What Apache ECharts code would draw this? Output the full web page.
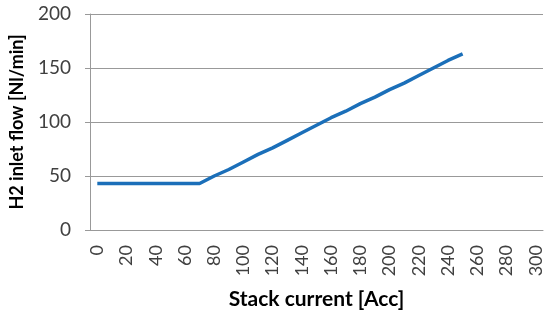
<!DOCTYPE html>
<html>
<head>
<meta charset="utf-8">
<script src="https://cdn.jsdelivr.net/npm/echarts@6/dist/echarts.min.js"></script>
<style>
    html, body { margin: 0; padding: 0; background: #fff; }
    #chart { width: 550px; height: 318px; }
</style>
</head>
<body>
<div id="chart"></div>
<script>
// stack current categories (every 10 A)
const currents = ['0', '10', '20', '30', '40', '50', '60', '70', '80', '90', '100',
    '110', '120', '130', '140', '150', '160', '170', '180', '190', '200',
    '210', '220', '230', '240', '250', '260', '270', '280', '290', '300'];
// H2 inlet flow (no data past 250)
const h2Flow = [43, 43, 43, 43, 43, 43, 43, 43, 50, 56, 63,
    70, 76, 83, 90, 97, 104, 110, 117, 123, 130,
    136, 143, 150, 157, 163, null, null, null, null, null];

const font = 'Lato, "Open Sans", sans-serif';
const myChart = echarts.init(document.getElementById('chart'));

const option = {
    animation: false,
    grid: {
        left: 90,
        right: 7,
        top: 14,
        bottom: 88
    },
    xAxis: {
        type: 'category',
        data: currents,
        boundaryGap: true,
        name: 'Stack current [Acc]',
        nameLocation: 'middle',
        nameGap: 59,
        nameTextStyle: { fontFamily: font, fontWeight: 'bold', fontSize: 21, color: '#000' },
        axisLine: { lineStyle: { color: '#999', width: 1 } },
        axisTick: { interval: 0, length: 5, lineStyle: { color: '#999' } },
        axisLabel: {
            interval: 1,
            rotate: 90,
            margin: 15,
            fontFamily: font,
            fontSize: 18,
            color: '#404040'
        }
    },
    yAxis: {
        type: 'value',
        min: 0,
        max: 200,
        interval: 50,
        name: 'H2 inlet flow [Nl/min]',
        nameLocation: 'middle',
        nameGap: 64,
        nameTextStyle: { fontFamily: font, fontWeight: 'bold', fontSize: 18, color: '#000' },
        axisLine: { show: true, lineStyle: { color: '#999', width: 1 } },
        axisTick: { show: true, length: 5, lineStyle: { color: '#999' } },
        axisLabel: {
            margin: 19,
            fontFamily: font,
            fontSize: 19,
            color: '#404040'
        },
        splitLine: { lineStyle: { color: '#999', width: 1 } }
    },
    series: [{
        type: 'line',
        data: h2Flow,
        showSymbol: false,
        symbol: 'none',
        lineStyle: { color: '#1b6fb9', width: 3.5 }
    }]
};

myChart.setOption(option);
</script>
</body>
</html>
